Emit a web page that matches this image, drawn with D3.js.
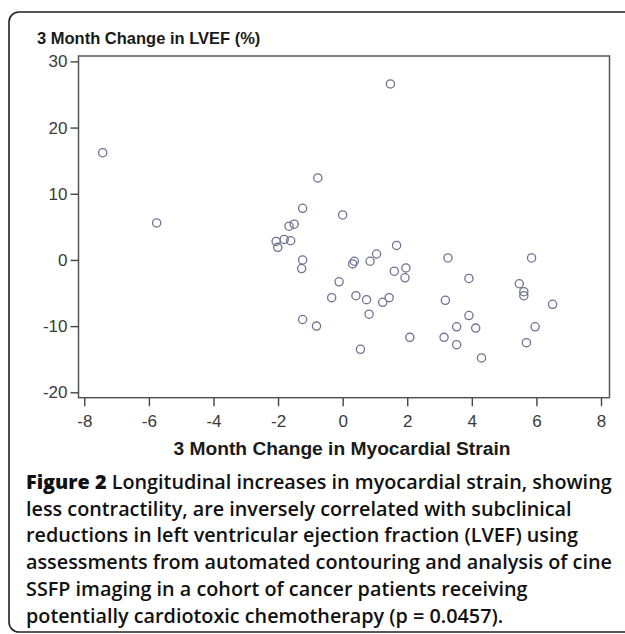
<!DOCTYPE html>
<html>
<head>
<meta charset="utf-8">
<script src="https://cdn.jsdelivr.net/npm/d3@7"></script>
<style>
    body { margin: 0; background: #fff; }
    svg { display: block; }
    .tick text { font-family: "Liberation Sans", Arial, sans-serif; font-size: 17px; fill: #3a3a3a; }
    .axis-title { font-family: "Liberation Sans", Arial, sans-serif; font-weight: bold; fill: #1a1a1a; }
    .caption { font-family: "Open Sans", "Noto Sans", sans-serif; font-weight: 600; font-size: 19.8px; fill: #111; }
</style>
</head>
<body>
<svg id="chart"></svg>
<script>
// 3 month change in myocardial strain (x) vs change in LVEF % (y)
const strainChange = [
    -7.43, -5.76, -0.77, -1.24, -1.66, -1.50, -2.06, -2.01, -1.81, -1.61,
    -1.24, -1.27, -1.24, -0.81, 1.48, 0.00, 1.67, 1.05, 0.85, 0.36,
    0.31, 1.60, 1.96, 1.93, -0.11, -0.34, 0.41, 0.74, 1.24, 1.44,
    0.82, 0.55, 2.08, 3.26, 3.91, 3.18, 3.91, 3.53, 4.12, 3.14,
    3.53, 4.30, 5.85, 5.47, 5.61, 5.61, 6.50, 5.96, 5.69
];
const lvefChange = [
    16.2, 5.6, 12.4, 7.8, 5.1, 5.4, 2.8, 1.9, 3.1, 2.9,
    0.0, -1.3, -9.0, -10.0, 26.6, 6.8, 2.2, 0.9, -0.2, -0.2,
    -0.6, -1.7, -1.2, -2.7, -3.3, -5.7, -5.4, -6.0, -6.4, -5.7,
    -8.2, -13.5, -11.7, 0.3, -2.8, -6.1, -8.4, -10.1, -10.3, -11.7,
    -12.8, -14.8, 0.3, -3.6, -4.8, -5.4, -6.7, -10.1, -12.5
];
const xTicks = [-8, -6, -4, -2, 0, 2, 4, 6, 8];
const yTicks = [-20, -10, 0, 10, 20, 30];

const yTitle = "3 Month Change in LVEF (%)";
const xTitle = "3 Month Change in Myocardial Strain";
const captionLabel = "Figure 2";
const captionLines = [
    " Longitudinal increases in myocardial strain, showing",
    "less contractility, are inversely correlated with subclinical",
    "reductions in left ventricular ejection fraction (LVEF) using",
    "assessments from automated contouring and analysis of cine",
    "SSFP imaging in a cohort of cancer patients receiving",
    "potentially cardiotoxic chemotherapy (p = 0.0457)."
];

class ScatterFigure {
    constructor(_config) {
        this.config = {
            parentElement: _config.parentElement,
            width: _config.width || 625,
            height: _config.height || 634,
            // tick positions in page pixels
            xRange: [84.3, 601],
            yRange: [392.3, 61.4],
            // the frame sits a little outside the outer ticks
            frame: { left: 78.5, right: 609.5, top: 56, bottom: 397.7 }
        };
        this.initVis();
    }

    initVis() {
        let vis = this;
        let f = vis.config.frame;

        vis.svg = d3.select(vis.config.parentElement)
            .attr("width", vis.config.width)
            .attr("height", vis.config.height);

        // rounded outer border of the figure panel (right side runs off the page)
        vis.svg.append("rect")
            .attr("x", 9).attr("y", 12)
            .attr("width", 660).attr("height", 620)
            .attr("rx", 10).attr("ry", 10)
            .attr("fill", "none")
            .attr("stroke", "#222")
            .attr("stroke-width", 1.6);

        vis.xScale = d3.scaleLinear().domain([-8, 8]).range(vis.config.xRange);
        vis.yScale = d3.scaleLinear().domain([-20, 30]).range(vis.config.yRange);

        // plot frame
        vis.svg.append("rect")
            .attr("x", f.left).attr("y", f.top)
            .attr("width", f.right - f.left).attr("height", f.bottom - f.top)
            .attr("fill", "none")
            .attr("stroke", "#555")
            .attr("stroke-width", 1.5);

        // plain hyphen for negatives, like the original
        const fmt = d => String(d);
        vis.xAxis = d3.axisBottom(vis.xScale).tickValues(xTicks).tickFormat(fmt)
            .tickSize(8.5).tickPadding(9).tickSizeOuter(0);
        vis.yAxis = d3.axisLeft(vis.yScale).tickValues(yTicks).tickFormat(fmt)
            .tickSize(8).tickPadding(3).tickSizeOuter(0);

        vis.xAxisG = vis.svg.append("g")
            .attr("class", "axis x-axis")
            .attr("transform", `translate(0,${f.bottom})`);
        vis.yAxisG = vis.svg.append("g")
            .attr("class", "axis y-axis")
            .attr("transform", `translate(${f.left},0)`);

        vis.renderVis();
    }

    renderVis() {
        let vis = this;
        let f = vis.config.frame;

        vis.xAxisG.call(vis.xAxis);
        vis.yAxisG.call(vis.yAxis);
        vis.svg.selectAll(".axis .domain").remove();
        vis.svg.selectAll(".axis .tick line").attr("stroke", "#444").attr("stroke-width", 1.4);

        // points
        const pts = d3.zip(strainChange, lvefChange);
        vis.svg.append("g")
            .selectAll("circle")
            .data(pts)
            .join("circle")
            .attr("cx", d => vis.xScale(d[0]))
            .attr("cy", d => vis.yScale(d[1]))
            .attr("r", 4.1)
            .attr("fill", "none")
            .attr("stroke", "#6d7390")
            .attr("stroke-width", 1.3);

        // axis titles
        vis.svg.append("text")
            .attr("class", "axis-title")
            .attr("x", 37).attr("y", 44)
            .style("font-size", "16.5px")
            .text(yTitle);

        vis.svg.append("text")
            .attr("class", "axis-title")
            .attr("x", (f.left + f.right) / 2 - 2).attr("y", 455)
            .attr("text-anchor", "middle")
            .style("font-size", "19.2px")
            .text(xTitle);

        // figure caption
        let cap = vis.svg.append("g").attr("class", "caption");
        captionLines.forEach((line, i) => {
            let t = cap.append("text")
                .attr("class", "caption")
                .attr("x", 26)
                .attr("y", 489 + i * 26.7);
            if (i === 0) {
                t.append("tspan").style("font-weight", "800").text(captionLabel);
            }
            t.append("tspan").text(line);
        });
    }
}

new ScatterFigure({ parentElement: "#chart" });
</script>
</body>
</html>
